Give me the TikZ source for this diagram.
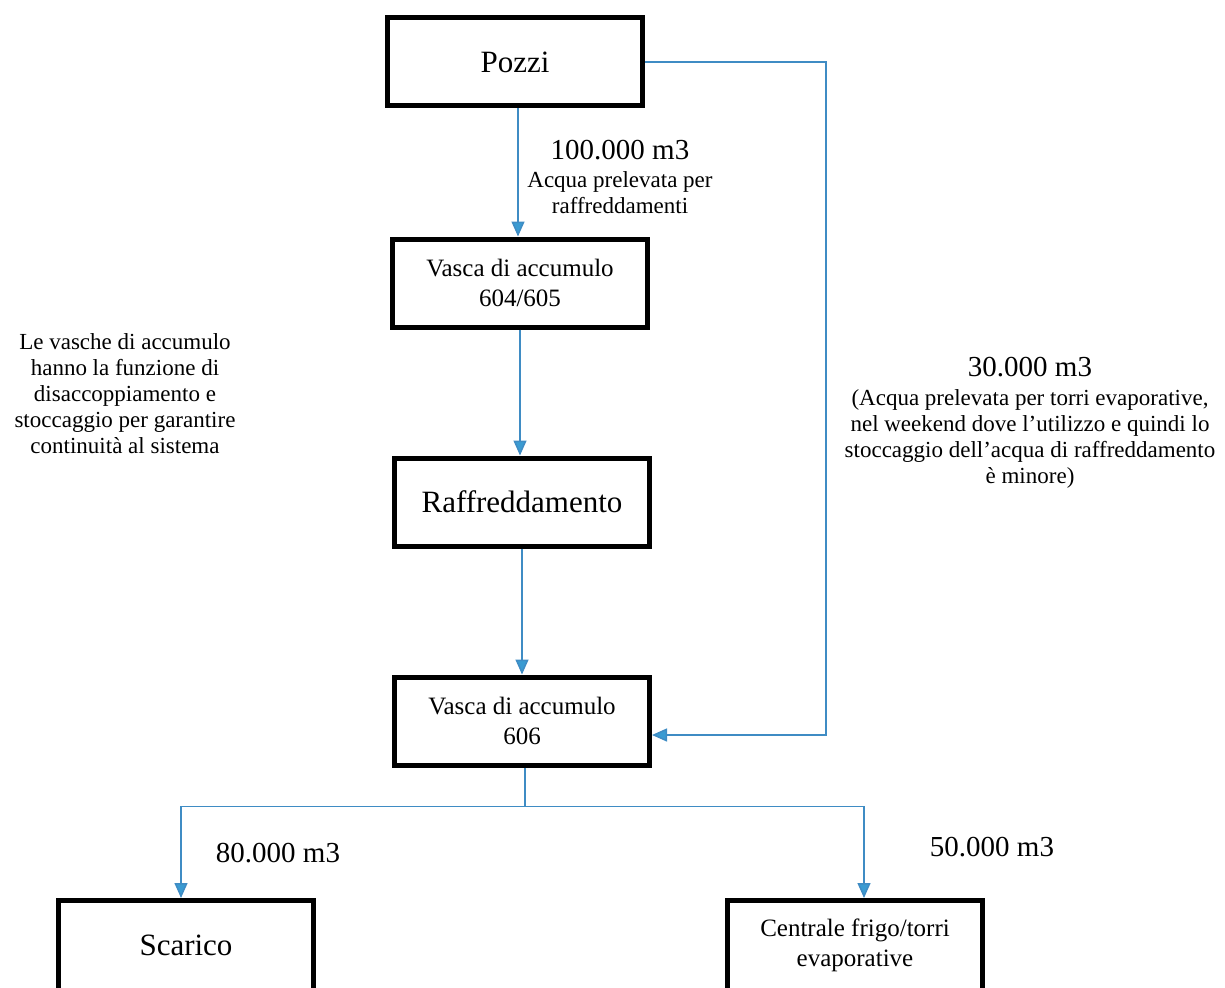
\documentclass[tikz,border=0pt]{standalone}
\usepackage{fontspec}
\setmainfont{Liberation Serif}
\usetikzlibrary{arrows.meta,positioning}
\definecolor{pipe}{HTML}{3F8CC4}
\definecolor{tip}{HTML}{3A9BD2}

\begin{document}
\begin{tikzpicture}[x=1pt,y=1pt,node distance=128pt and 0pt,>={Triangle[width=13pt,length=15pt,fill=tip]},
 box/.style={draw,line width=5pt,minimum width=255pt,minimum height=88pt,align=center,inner sep=0pt},
 big/.style={font=\fontsize{31}{36}\selectfont},
 small/.style={font=\fontsize{25}{30}\selectfont},
 lab/.style={align=center,font=\fontsize{23}{26}\selectfont},
 qty/.style={font=\fontsize{29}{34}\selectfont},
 flow/.style={draw=pipe,line width=1.5pt,->},
 pipeline/.style={draw=pipe,line width=1.5pt}]
 \useasboundingbox (0,0) rectangle (1225,-987);
 % boxes
 \node[box,big] (a) at (515,-62) {Pozzi};
 \node[box,small,below=of a,xshift=5pt] (b) {Vasca di accumulo\\604/605};
 \node[box,big,below=126pt of b,xshift=2pt] (c) {Raffreddamento};
 \node[box,small,below=126pt of c] (d) {Vasca di accumulo\\606};
 \node[box,big,minimum height=90pt] (e) at (186,-945.5) {Scarico};
 \node[box,small,minimum height=90pt] (f) at (855,-945.5) {Centrale frigo/torri\\evaporative};
 % labels
 \node[qty] (q1) at (620,-150) {100.000 m3};
 \node[lab] (l1) at (620,-193) {Acqua prelevata per\\raffreddamenti};
 \node[qty] (q2) at (1030,-367) {30.000 m3};
 \node[lab] (l2) at (1030,-439) {(Acqua prelevata per torri evaporative,\\nel weekend dove l’utilizzo e quindi lo\\stoccaggio dell’acqua di raffreddamento\\è minore)};
 \node[lab] (n) at (125,-394) {Le vasche di accumulo\\hanno la funzione di\\disaccoppiamento e\\stoccaggio per garantire\\continuità al sistema};
 \node[qty] (q3) at (278,-853) {80.000 m3};
 \node[qty] (q4) at (992,-847) {50.000 m3};
 % connectors
 \draw[flow] ([xshift=3pt]a.south) -- ([xshift=-2pt]b.north);
 \draw[flow] (b.south) -- (b.south |- c.north);
 \draw[flow] (c.south) -- (c.south |- d.north);
 \draw[flow] (a.east) -- ++(181,0) |- ([yshift=-14pt]d.east);
 \draw[pipeline] ([xshift=3pt]d.south) -- ++(0,-39) coordinate (j);
 \draw[flow] (j) -| ([xshift=-5pt]e.north);
 \draw[flow] (j) -| ([xshift=9pt]f.north);
\end{tikzpicture}
\end{document}
